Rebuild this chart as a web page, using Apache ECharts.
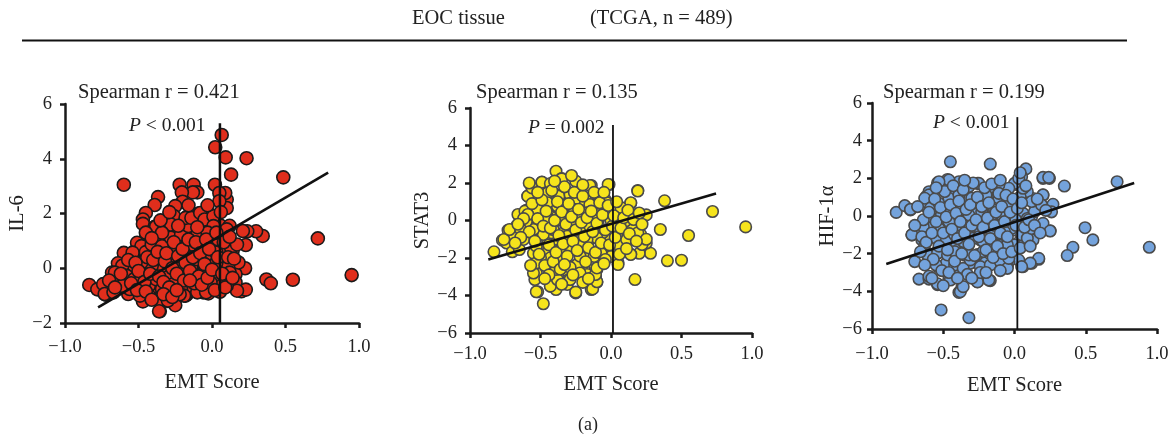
<!DOCTYPE html>
<html>
<head>
<meta charset="utf-8">
<script src="https://cdn.jsdelivr.net/npm/echarts@6/dist/echarts.min.js"></script>
<style>
html,body{margin:0;padding:0;background:#fff;}
#c{width:1175px;height:436px;}
</style>
</head>
<body>
<div id="c"></div>
<script>
// ---------- data ----------
const xTicks = [-1.0, -0.5, 0.0, 0.5, 1.0];
const il6Ticks = [-2, 0, 2, 4, 6];
const stat3Ticks = [-6, -4, -2, 0, 2, 4, 6];
const hifTicks = [-6, -4, -2, 0, 2, 4, 6];

const il6Points = [
[-0.60,3.05],[0.066,4.87],[0.022,4.42],[0.093,4.05],[0.235,4.02],[0.13,3.42],[0.485,3.32],[0.72,1.09],[0.95,-0.25],[0.55,-0.42],
[0.37,-0.41],[0.40,-0.55],[0.345,1.18],[0.30,1.35],[0.24,1.35],[0.23,0.85],[0.225,0.0],[0.2,-0.84],[0.23,-0.78],[0.14,0.63],
[0.15,0.02],[0.13,-0.46],[0.10,2.51],[0.10,2.2],[0.09,2.75],[0.02,3.05],[0.05,2.75],[0.05,2.45],[0.02,1.91],[0.06,1.55],
[0.12,1.55],[-0.054,2.02],[-0.08,1.66],[-0.09,2.0],[-0.125,3.05],[-0.10,2.77],[-0.13,2.77],[-0.22,3.05],[-0.205,2.77],[-0.20,2.43],
[-0.25,2.27],[-0.26,1.91],[-0.17,1.87],[-0.13,1.84],[-0.367,2.6],[-0.39,2.31],[-0.45,2.02],[-0.47,1.78],[-0.47,1.62],[-0.39,1.51],
[-0.44,1.29],[-0.49,0.89],[-0.53,0.58],[-0.60,0.56],[-0.64,0.18],[-0.58,0.15],[-0.56,0.09],[-0.68,-0.16],[-0.60,-0.04],[-0.64,-0.34],
[-0.835,-0.61],[-0.74,-0.62],[-0.78,-0.77],[-0.72,-0.97],[-0.60,-0.68],[-0.57,-0.94],[-0.47,-1.21],[-0.355,-1.57],[-0.30,-1.19],[-0.25,-1.35],
[-0.17,-0.94],[-0.145,-0.77],[-0.025,-0.92],[0.054,-0.86],[0.05,-0.46],[0.005,-0.5],[-0.08,0.22],[-0.21,0.1],[-0.02,0.35],[0.01,0.96],
[0.01,0.66],[0.06,0.72],[0.07,0.26],[0.10,0.07],[0.13,-0.14],[0.16,-0.22],[-0.08,0.88],[-0.12,1.21],[-0.18,1.28],[-0.26,1.46],
[-0.31,1.04],[-0.37,0.92],[-0.42,0.56],[-0.35,0.38],[-0.26,0.69],[-0.17,0.87],[-0.46,0.27],[-0.44,-0.09],[-0.53,-0.33],[-0.49,-0.52],
[-0.40,-0.4],[-0.39,-0.77],[-0.43,-1.0],[-0.32,-0.7],[-0.28,-0.4],[-0.23,-0.64],[-0.18,-1.0],[-0.10,-0.7],[-0.06,-0.88],[-0.14,-0.28],
[-0.06,-0.16],[-0.2,-0.09],[-0.30,0.1],[-0.37,-0.15],[-0.35,-1.06],
[-0.38,1.52],[-0.45,1.3],[-0.51,0.93],[-0.48,0.81],[-0.54,0.57],[-0.45,0.59],[-0.41,0.87],[-0.34,0.81],[-0.13,0.69],[-0.06,0.81],
[-0.28,1.12],[-0.21,1.24],[-0.16,1.54],[-0.10,1.24],[-0.18,1.84],[-0.14,1.84],[-0.08,2.02],[-0.05,1.78],[0.01,1.9],[0.01,1.54],
[-0.03,1.3],[0.04,1.06],[0.1,1.42],[0.21,1.36],[0.13,0.75],[0.17,0.87],[0.18,0.21],[0.11,0.09],[0.12,-0.16],[0.16,-0.52],
[0.17,-0.82],[0.1,-0.64],[0.06,-0.52],[-0.01,-0.64],[0.01,-0.28],[-0.05,-0.04],[-0.1,-0.28],[-0.14,-0.64],[-0.21,-0.76],[-0.26,-0.40],
[-0.30,-0.16],[-0.34,0.09],[-0.41,0.09],[-0.48,0.21],[-0.54,0.09],[-0.61,0.09],[-0.66,-0.16],[-0.62,-0.40],[-0.58,-0.28],[-0.53,-0.40],
[-0.48,-0.34],[-0.43,-0.64],[-0.38,-0.40],[-0.34,-0.76],[-0.30,-1.0],[-0.36,-1.18],[-0.30,-1.18],[-0.36,-1.57],[-0.49,-1.0],[-0.56,-0.76],
[-0.61,-0.64],[-0.74,-0.58],[-0.73,-0.94],[-0.67,-0.88],[-0.19,-1.0],[-0.1,-0.88],[-0.04,-0.88],[-0.01,-0.52],[-0.14,0.09],[-0.21,0.09],
[-0.28,0.33],[-0.38,0.45],[-0.17,0.45],[-0.1,0.33],[-0.01,0.45],[0.03,0.57],[0.03,0.21],
[-0.62,-0.2],[-0.57,0.3],[-0.52,0.2],[-0.5,-0.1],[-0.46,-0.5],[-0.44,0.4],[-0.42,-0.2],[-0.4,0.3],[-0.37,0.6],[-0.36,-0.3],
[-0.33,-0.5],[-0.32,0.25],[-0.31,0.55],[-0.29,-0.7],[-0.27,0.0],[-0.26,0.95],[-0.24,-0.2],[-0.23,0.45],[-0.22,-0.95],[-0.2,0.7],
[-0.19,-0.45],[-0.18,0.2],[-0.16,1.05],[-0.15,-0.1],[-0.13,0.4],[-0.12,-0.55],[-0.11,0.95],[-0.09,-0.3],[-0.08,0.55],[-0.07,-0.6],
[-0.05,0.15],[-0.04,1.05],[-0.03,-0.35],[-0.02,0.7],[0.0,-0.05],[0.02,-0.8],[0.03,1.3],[0.04,0.4],[0.07,-0.2],[0.08,0.95],
[0.09,-0.7],[0.11,0.4],[0.12,1.15],[0.14,-0.35],[0.15,0.35],[-0.7,-0.45],[-0.66,-0.7],[-0.55,-0.55],[-0.51,-0.8],[-0.45,-0.85],
[-0.41,-1.15],[-0.33,-0.95],[-0.27,-1.05],[-0.24,-0.8],[-0.15,-0.45],[-0.28,1.6],[-0.34,1.3],[-0.41,1.1],[-0.35,1.75],[-0.23,1.55],
[-0.1,1.5],[-0.03,2.3],[0.06,2.05],[-0.16,2.3],[-0.29,2.05]
];

const stat3Points = [
[0.955,-0.34],[0.72,0.48],[0.38,1.05],[0.35,-0.48],[0.55,-0.80],[0.40,-2.15],[0.50,-2.12],[0.17,-3.15],[0.19,1.6],[0.28,-1.75],
[0.25,-1.2],[0.25,0.3],[0.21,-0.74],[0.2,-1.75],[0.14,0.92],[0.14,-1.8],[0.05,-2.25],[0.045,-1.28],[-0.014,1.92],[-0.14,1.87],
[-0.25,2.1],[-0.39,2.63],[-0.35,2.24],[-0.49,2.05],[-0.43,1.92],[-0.56,1.74],[-0.59,1.3],[-0.6,0.55],[-0.65,0.28],[-0.73,-0.52],
[-0.77,-1.05],[-0.83,-1.67],[-0.74,-1.2],[-0.70,-1.67],[-0.65,-1.55],[-0.6,-0.84],[-0.63,-0.13],[-0.53,-2.79],[-0.54,-3.15],[-0.52,-3.8],
[-0.48,-4.44],[-0.43,-3.5],[-0.39,-3.68],[-0.39,-3.15],[-0.40,-2.61],[-0.36,-2.97],[-0.31,-2.7],[-0.31,-3.41],[-0.25,-3.86],[-0.24,-2.36],
[-0.30,-3.15],[-0.19,-1.83],[-0.15,-2.61],[-0.14,-3.68],[-0.11,-2.97],[-0.1,-2.61],[-0.10,-3.28],[-0.12,-1.92],[-0.19,-2.61],[-0.5,-2.1],
[-0.44,-2.1],[-0.47,-1.55],[-0.55,-1.75],[-0.52,-1.4],[-0.45,-1.0],[-0.5,-0.66],[-0.56,-0.30],[-0.47,-0.13],[-0.42,0.2],[-0.39,0.73],
[-0.45,0.73],[-0.5,0.55],[-0.45,1.45],[-0.42,1.2],[-0.37,1.28],[-0.34,1.45],[-0.29,1.28],[-0.27,0.73],[-0.31,0.37],[-0.36,0.02],
[-0.30,-0.30],[-0.25,0.02],[-0.19,0.37],[-0.15,0.73],[-0.18,1.1],[-0.21,0.92],[-0.09,1.28],[-0.04,1.1],[-0.08,0.73],[-0.04,0.37],
[-0.09,0.02],[-0.13,-0.30],[-0.20,-0.48],[-0.27,-0.84],[-0.34,-0.66],[-0.39,-1.0],[-0.36,-1.55],[-0.29,-1.4],[-0.21,-1.2],[-0.15,-1.0],
[-0.09,-0.84],[-0.03,-1.0],[-0.03,-1.55],[0.04,-0.66],[0.06,-0.13],[0.08,0.37],[0.05,0.73],[0.0,0.55],[0.0,0.02],[0.1,-0.13],
[0.09,-0.48],[0.15,-0.30],[0.14,-1.0],[0.08,-1.4],[0.0,-1.92],[-0.07,-1.75],[-0.42,-0.66],[-0.45,0.2],[-0.69,-0.84],[-0.67,-0.30],
[-0.61,-0.48],[-0.55,0.2],
[-0.15,1.87],[-0.02,1.92],[0.19,1.57],[0.14,0.95],[-0.53,-3.8],[-0.25,-3.82],[-0.13,-3.65],[-0.10,-3.27],[-0.43,-3.5],[-0.38,-3.15],
[-0.29,-3.15],[-0.55,-2.8],[-0.39,-2.61],[-0.24,-2.35],[-0.17,-2.88],[-0.11,-2.88],[-0.10,-2.53],[0.05,-2.35],[-0.04,-2.08],[-0.76,-1.01],
[-0.72,-0.48],[-0.66,0.32],[-0.61,0.5],[-0.59,1.3],[-0.56,1.74],[-0.49,2.04],[-0.43,1.97],[-0.35,2.22],[-0.45,1.47],[-0.37,1.3],
[-0.29,1.38],[-0.26,1.03],[-0.15,0.85],[-0.08,1.3],[-0.03,0.95],[0.01,0.6],[0.07,0.69],[0.10,-0.04],[0.19,-0.66],[0.22,-1.28],
[0.25,-1.0],[0.14,-1.81],[0.05,-1.28],[0.11,-1.0],[0.04,-0.75],[-0.06,-0.66],[-0.10,-0.93],[-0.17,-1.01],[-0.22,-1.37],[-0.29,-1.37],
[-0.36,-1.72],[-0.43,-1.99],[-0.50,-1.99],[-0.53,-2.26],[-0.36,-2.08],[-0.22,-1.9],[-0.31,-0.84],[-0.41,-0.48],[-0.48,-0.75],[-0.55,-0.48],
[-0.62,-1.01],[-0.53,-1.37],[-0.6,-0.04],[-0.64,-0.48],[-0.45,0.12],[-0.36,0.2],[-0.29,-0.13],[-0.22,0.12],[-0.15,-0.30],[-0.10,0.32],
[-0.17,0.41],[-0.26,0.6],[-0.38,0.76],[-0.45,0.95],[-0.52,0.6],[-0.59,0.32],
[-0.58,-0.6],[-0.56,0.9],[-0.54,-1.1],[-0.52,0.1],[-0.51,-1.8],[-0.49,1.1],[-0.48,-0.3],[-0.47,-2.4],[-0.46,0.5],[-0.44,-1.3],
[-0.43,-0.4],[-0.42,1.6],[-0.41,-2.2],[-0.4,0.0],[-0.39,-1.7],[-0.38,1.0],[-0.37,-0.8],[-0.36,-2.6],[-0.35,0.45],[-0.34,-1.25],
[-0.33,1.8],[-0.32,-0.2],[-0.31,-1.9],[-0.3,0.9],[-0.29,-2.5],[-0.28,0.2],[-0.27,-1.1],[-0.26,1.5],[-0.25,-0.5],[-0.24,-1.6],
[-0.23,0.6],[-0.22,-2.8],[-0.21,-0.1],[-0.2,1.3],[-0.19,-0.85],[-0.18,-2.2],[-0.17,0.15],[-0.16,-1.45],[-0.14,0.5],[-0.13,-0.6],
[-0.12,1.5],[-0.11,-1.7],[-0.1,-0.15],[-0.08,0.95],[-0.07,-1.2],[-0.06,0.3],[-0.05,-2.3],[-0.04,-0.5],[-0.02,0.8],[-0.01,-1.3],
[0.01,-0.3],[0.02,0.25],[0.03,-0.9],[0.04,1.0],[0.06,-1.8],[0.07,-0.4],[0.09,0.15],[0.11,-1.5],[0.12,0.55],[0.13,-0.7],
[0.16,0.05],[0.18,-1.1],[0.2,0.4],[0.22,-0.2],[-0.62,0.1],[-0.64,-0.9],[-0.66,-0.2],[-0.68,-1.2],[-0.57,-2.4],[-0.44,-2.9],
[-0.33,-2.35],[-0.27,-2.9],[-0.2,-3.3],[-0.16,-3.1],[-0.35,-3.4],[-0.47,-3.1],[-0.58,2.0],[-0.28,2.4],[-0.2,1.9],[-0.05,1.5],
[-0.52,1.5],[-0.4,2.1]
];

const hifPoints = [
[0.946,-1.66],[0.72,1.82],[0.495,-0.62],[0.55,-1.27],[0.41,-1.66],[0.37,-2.1],[0.35,1.59],[0.27,0.62],[0.25,-0.78],[0.245,2.0],
[0.2,2.0],[0.2,1.11],[0.2,-0.39],[0.17,-2.3],[0.12,-2.51],[0.06,-2.69],[0.03,-2.34],[0.08,2.5],[0.05,2.09],[0.01,1.68],
[-0.17,2.76],[-0.45,2.88],[-0.47,1.94],[-0.54,1.76],[-0.83,0.19],[-0.77,0.55],[-0.73,0.32],[-0.72,-1.0],[-0.70,-2.42],[-0.67,-3.35],
[-0.6,-3.35],[-0.54,-3.65],[-0.515,-4.99],[-0.32,-5.4],[-0.39,-4.06],[-0.37,-3.81],[-0.46,-3.35],[-0.26,-3.49],[-0.17,-3.43],[-0.62,1.03],
[-0.6,1.29],[-0.62,0.5],[-0.65,-0.74],[-0.65,-1.27],[-0.62,-1.98],[-0.54,-1.89],[-0.54,-2.69],[-0.48,-2.51],[-0.54,-1.27],[-0.04,-2.43],
[-0.05,-2.69],[-0.12,-2.34],[-0.17,-2.51],[-0.22,-2.48],[-0.31,-2.51],[-0.38,-2.87],[-0.26,-2.05],[-0.35,-2.08],[-0.42,-2.17],[0.05,-1.18],
[0.10,-1.1],[0.13,-1.27],[0.06,0.14],[0.12,-0.04],[0.15,0.50],[0.13,0.93],[0.09,1.29],[0.04,1.02],[-0.05,-0.04],[0.0,-0.74],
[0.02,-1.45],[-0.08,-1.53],[-0.12,-0.92],[-0.17,-0.39],[-0.22,0.50],[-0.19,1.02],[-0.12,1.38],[-0.08,0.85],[-0.14,0.32],[-0.26,0.14],
[-0.31,0.85],[-0.33,1.56],[-0.26,1.73],[-0.40,1.38],[-0.43,1.02],[-0.47,0.50],[-0.52,-0.04],[-0.47,-0.39],[-0.40,-0.04],[-0.36,-0.56],
[-0.31,-1.1],[-0.38,-1.27],[-0.45,-1.1],[-0.5,-1.45],[-0.42,-1.63],[-0.33,-1.63],[-0.24,-1.27],[-0.17,-1.63],[-0.24,-0.74],[-0.28,-0.21],
[-0.19,-0.04],[-0.10,-0.21],[-0.03,0.50],[0.01,-0.21],[-0.59,-0.04],[-0.57,-0.56],[-0.45,0.14],[-0.37,0.32],[-0.36,0.85],
[0.20,2.05],[0.24,2.05],[0.2,1.12],[0.26,0.22],[0.25,-0.8],[0.17,-2.25],[0.11,-2.5],[0.05,-2.69],[-0.73,0.35],[-0.72,-1.0],
[-0.6,-3.2],[-0.54,-3.6],[-0.38,-4.02],[-0.36,-3.75],[-0.45,-3.4],[-0.26,-3.5],[-0.18,-3.4],[-0.64,-0.57],[-0.65,-1.1],[-0.63,-1.54],
[-0.61,-2.07],[-0.55,-2.6],[-0.54,-1.98],[-0.47,-2.07],[-0.42,-2.6],[-0.36,-2.78],[-0.31,-2.33],[-0.24,-2.69],[-0.17,-2.6],[-0.10,-2.42],
[-0.05,-2.78],[-0.04,-2.25],[0.00,-1.54],[0.05,-1.0],[0.09,-1.18],[0.12,-0.66],[0.09,-0.13],[0.14,0.23],[0.19,0.59],[0.12,0.77],
[0.06,1.47],[0.00,1.73],[0.03,2.0],[-0.04,1.47],[-0.11,1.65],[-0.18,1.47],[-0.25,1.73],[-0.32,1.56],[-0.39,1.82],[-0.46,1.91],
[-0.53,1.82],[-0.60,1.12],[-0.63,0.94],[-0.59,0.41],[-0.53,0.68],[-0.46,0.94],[-0.39,1.12],[-0.30,0.94],[-0.20,1.12],[-0.11,0.94],
[-0.04,0.59],[-0.09,0.05],[-0.16,-0.30],[-0.23,0.23],[-0.32,0.05],[-0.39,-0.48],[-0.46,-0.30],[-0.53,-0.66],[-0.55,-1.18],[-0.48,-1.36],
[-0.42,-1.0],[-0.36,-1.36],[-0.29,-1.18],[-0.22,-1.36],[-0.16,-1.0],[-0.11,-1.54],[-0.05,-1.54],[-0.02,-0.66],[-0.07,-0.84],[-0.42,-1.89],
[-0.32,-2.07],[-0.22,-1.89],
[-0.64,-0.2],[-0.62,-1.4],[-0.6,0.2],[-0.58,-0.9],[-0.57,-2.3],[-0.56,0.9],[-0.55,-0.3],[-0.53,-1.6],[-0.52,0.45],[-0.51,-2.9],
[-0.5,-0.9],[-0.49,1.3],[-0.48,-0.05],[-0.47,-1.8],[-0.46,-3.0],[-0.45,0.6],[-0.44,-0.7],[-0.43,1.6],[-0.42,-2.4],[-0.41,0.15],
[-0.4,-1.2],[-0.39,0.8],[-0.38,-0.3],[-0.37,-2.0],[-0.36,1.4],[-0.35,-0.9],[-0.34,0.35],[-0.33,-3.1],[-0.32,-1.5],[-0.31,0.6],
[-0.3,-0.5],[-0.29,1.75],[-0.28,-2.1],[-0.27,-0.2],[-0.26,1.0],[-0.25,-1.1],[-0.24,-3.0],[-0.23,0.5],[-0.22,-0.6],[-0.21,1.5],
[-0.2,-1.8],[-0.19,-0.1],[-0.18,0.7],[-0.17,-1.2],[-0.16,1.7],[-0.15,-2.2],[-0.14,-0.5],[-0.13,0.2],[-0.12,-1.6],[-0.11,1.2],
[-0.1,-0.9],[-0.09,0.5],[-0.08,-2.0],[-0.07,-0.3],[-0.06,1.1],[-0.05,-1.1],[-0.03,0.2],[-0.02,-1.9],[-0.01,0.9],[0.01,-0.5],
[0.02,0.4],[0.04,-1.7],[0.05,0.7],[0.07,-0.6],[0.08,1.6],[0.1,-0.2],[0.11,-1.6],[0.14,-0.5],[0.16,0.9],[0.18,-0.9],
[0.22,0.3],[-0.68,0.5],[-0.7,-0.5],[-0.66,-1.9],[-0.63,-2.6],[-0.58,-3.3],[-0.5,-3.7],[-0.4,-3.3],[-0.3,-3.3],[-0.2,-3.0],
[-0.1,-2.9],[-0.55,1.5],[-0.35,1.9],[-0.1,1.9],[0.04,2.3]
];

// regression lines and vertical reference lines (endpoints)
const il6Fit = [[-0.775,-1.43],[0.79,3.49]];
const stat3Fit = [[-0.87,-2.08],[0.745,1.44]];
const hifFit = [[-0.9,-2.55],[0.84,1.75]];
const il6Ref = [[0.054,-2],[0.054,5.3]];
const stat3Ref = [[0.014,-6],[0.014,5.1]];
const hifRef = [[0.02,-6],[0.02,5.25]];

const panelNames = ['IL-6','STAT3','HIF-1\u03b1'];
const spearmanTexts = ['Spearman r = 0.421','Spearman r = 0.135','Spearman r = 0.199'];
const pTexts = ['{i|P} < 0.001','{i|P} = 0.002','{i|P} < 0.001'];

// ---------- chart ----------
const FONT = '"Liberation Serif","DejaVu Serif",serif';
const fmtX = v => (v < 0 ? '\u2212' : '') + Math.abs(v).toFixed(1);
const fmtY = v => (v < 0 ? '\u2212' + Math.abs(v) : String(v));

const grids = [
  {left:65, top:104, width:294, height:219},
  {left:470, top:108, width:282, height:225},
  {left:872, top:103, width:285, height:226}
];
const xLabelMargin = [15, 12, 16];
const xNameGap = [49, 41, 46];
const yLabelMargin = [13, 13, 10];
const yNameGap = [33, 37, 34];
const yRanges = [il6Ticks, stat3Ticks, hifTicks];

function xAxis(i){
  return {
    gridIndex:i, type:'value', min:xTicks[0], max:xTicks[xTicks.length-1], interval:0.5,
    name:'EMT Score', nameLocation:'middle', nameGap:xNameGap[i],
    nameTextStyle:{fontFamily:FONT, fontSize:20.5, color:'#222'},
    axisLine:{show:true, onZero:false, lineStyle:{color:'#1a1a1a', width:2.5}},
    axisTick:{show:true, length:5, lineStyle:{color:'#1a1a1a', width:2.5}},
    axisLabel:{formatter:fmtX, fontFamily:FONT, fontSize:18.5, color:'#222', margin:xLabelMargin[i]},
    splitLine:{show:false}
  };
}
function yAxis(i){
  const t = yRanges[i];
  return {
    gridIndex:i, type:'value', min:t[0], max:t[t.length-1], interval:2,
    name:panelNames[i], nameLocation:'middle', nameGap:yNameGap[i], nameRotate:90,
    nameTextStyle:{fontFamily:FONT, fontSize:20.5, color:'#222'},
    axisLine:{show:true, onZero:false, lineStyle:{color:'#1a1a1a', width:2.5}},
    axisTick:{show:true, length:5, lineStyle:{color:'#1a1a1a', width:2.5}},
    axisLabel:{formatter:fmtY, fontFamily:FONT, fontSize:18.5, color:'#222', margin:yLabelMargin[i]},
    splitLine:{show:false}
  };
}

const pointSets = [il6Points, stat3Points, hifPoints];
const fits = [il6Fit, stat3Fit, hifFit];
const refs = [il6Ref, stat3Ref, hifRef];
const fills = ['#e02e1c', '#f6e41c', '#74a3dc'];
const borders = ['#1a1a1a', '#4a4a4a', '#4a4a4a'];
const sizes = [13, 11.5, 11.5];
const refWidths = [2.5, 1.8, 1.8];

const series = [];
for (let i = 0; i < 3; i++) {
  series.push({
    type:'scatter', xAxisIndex:i, yAxisIndex:i, data:pointSets[i],
    symbolSize:sizes[i], z:2, silent:true,
    itemStyle:{color:fills[i], borderColor:borders[i], borderWidth:1.6, opacity:1}
  });
  series.push({
    type:'line', xAxisIndex:i, yAxisIndex:i, data:refs[i], symbol:'none', z:3, silent:true,
    lineStyle:{color:'#111', width:refWidths[i]}
  });
  series.push({
    type:'line', xAxisIndex:i, yAxisIndex:i, data:fits[i], symbol:'none', z:4, silent:true,
    lineStyle:{color:'#111', width:2.6}
  });
}

const spearPos = [[78,93],[476,93],[883,93]];
const pPos = [[129,126],[528,128],[933,123]];
const graphics = [
  {type:'text', left:412, top:8, style:{text:'EOC tissue', font:'20.5px '+FONT, fill:'#222'}},
  {type:'text', left:590, top:8, style:{text:'(TCGA, n = 489)', font:'20.5px '+FONT, fill:'#222'}},
  {type:'line', shape:{x1:22, y1:40.5, x2:1127, y2:40.5}, style:{stroke:'#111', lineWidth:2}},
  {type:'text', x:588, y:425, style:{text:'(a)', font:'18px '+FONT, fill:'#222', align:'center', verticalAlign:'middle'}}
];
for (let i = 0; i < 3; i++) {
  graphics.push({type:'text', x:spearPos[i][0], y:spearPos[i][1],
    style:{text:spearmanTexts[i], font:'20.5px '+FONT, fill:'#222', verticalAlign:'middle'}});
  graphics.push({type:'text', x:pPos[i][0], y:pPos[i][1],
    style:{text:pTexts[i], font:'19.5px '+FONT, fill:'#222', verticalAlign:'middle',
      rich:{i:{fontStyle:'italic', fontFamily:FONT, fontSize:19.5, fill:'#222'}}}});
}

const chart = echarts.init(document.getElementById('c'), null, {renderer:'canvas'});
chart.setOption({
  animation:false,
  backgroundColor:'#fff',
  grid:grids,
  xAxis:[xAxis(0), xAxis(1), xAxis(2)],
  yAxis:[yAxis(0), yAxis(1), yAxis(2)],
  series:series,
  graphic:graphics
});
</script>
</body>
</html>
